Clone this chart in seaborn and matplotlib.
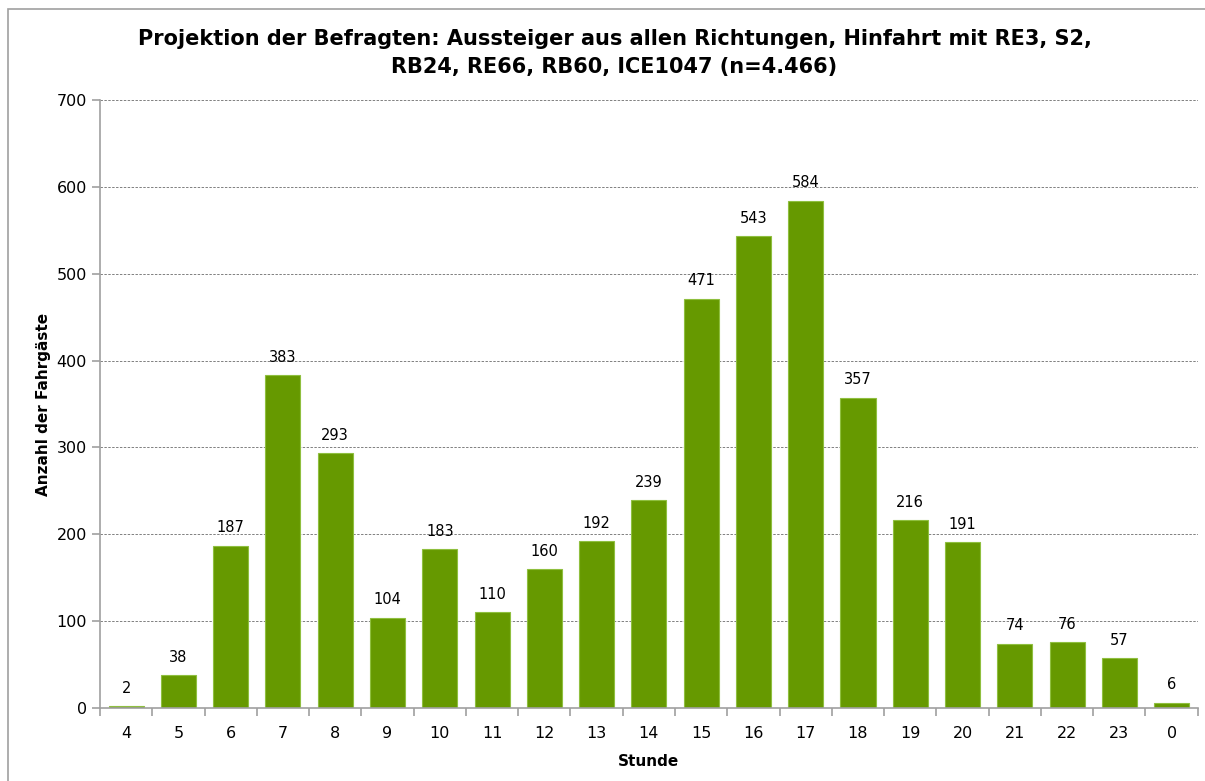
import matplotlib
matplotlib.use("Agg")
import matplotlib.pyplot as plt
import seaborn as sns
import pandas as pd
import numpy as np
from matplotlib.patches import Rectangle

# data
stunden = ["4", "5", "6", "7", "8", "9", "10", "11", "12", "13", "14",
           "15", "16", "17", "18", "19", "20", "21", "22", "23", "0"]
fahrgaeste = [2, 38, 187, 383, 293, 104, 183, 110, 160, 192, 239,
              471, 543, 584, 357, 216, 191, 74, 76, 57, 6]

df = pd.DataFrame({"Stunde": stunden, "Anzahl": fahrgaeste})

sns.set_theme(style="white")
plt.rcParams["font.family"] = ["DejaVu Sans"]
plt.rcParams["text.color"] = "black"
plt.rcParams["axes.labelcolor"] = "black"
plt.rcParams["xtick.color"] = "black"
plt.rcParams["ytick.color"] = "black"

fig = plt.figure(figsize=(12.05, 7.81), dpi=100)
ax = fig.add_axes([0.083, 0.0935, 0.911, 0.7785])

sns.barplot(data=df, x="Stunde", y="Anzahl", order=stunden, color="#669900",
            saturation=1, width=0.67, edgecolor="#8fbf3f", linewidth=0.8, ax=ax)

ax.set_ylim(0, 700)
ax.set_xlim(-0.5, len(stunden) - 0.5)
ax.set_yticks(np.arange(0, 701, 100))
ax.yaxis.grid(True, linestyle=(0, (2.5, 1.5)), color="#808080", linewidth=0.7)
ax.set_axisbelow(True)

for s in ["top", "right"]:
    ax.spines[s].set_visible(False)
for s in ["left", "bottom"]:
    ax.spines[s].set_color("#a0a0a0")
    ax.spines[s].set_linewidth(1.2)

ax.set_xticks(np.arange(-0.5, len(stunden), 1), minor=True)
ax.tick_params(axis="x", which="major", length=0, labelsize=11.5, pad=13)
ax.tick_params(axis="x", which="minor", bottom=True, length=6, color="#a0a0a0",
               width=1.2, direction="out")
ax.tick_params(axis="y", which="major", length=6, color="#a0a0a0", width=1.2,
               direction="out", labelsize=11.5, left=True, labelcolor="black")
ax.tick_params(axis="x", labelcolor="black")

for i, v in enumerate(fahrgaeste):
    ax.text(i, v + 12, str(v), ha="center", va="bottom", fontsize=10.5, color="black")

ax.set_xlabel("Stunde", fontsize=11, fontweight="bold", labelpad=9)
ax.set_ylabel("Anzahl der Fahrgäste", fontsize=11, fontweight="bold", labelpad=4)

fig.suptitle("Projektion der Befragten: Aussteiger aus allen Richtungen, Hinfahrt mit RE3, S2,\n"
             "RB24, RE66, RB60, ICE1047 (n=4.466)",
             fontsize=15, fontweight="bold", y=0.963, x=0.51, linespacing=1.5,
             color="black")

fig.patches.append(Rectangle((8 / 1205, -0.1), 1.2, 1 - 9 / 781 + 0.1,
                             transform=fig.transFigure, fill=False,
                             edgecolor="#a0a0a0", linewidth=1.2))

fig.savefig("out.png", dpi=100)
